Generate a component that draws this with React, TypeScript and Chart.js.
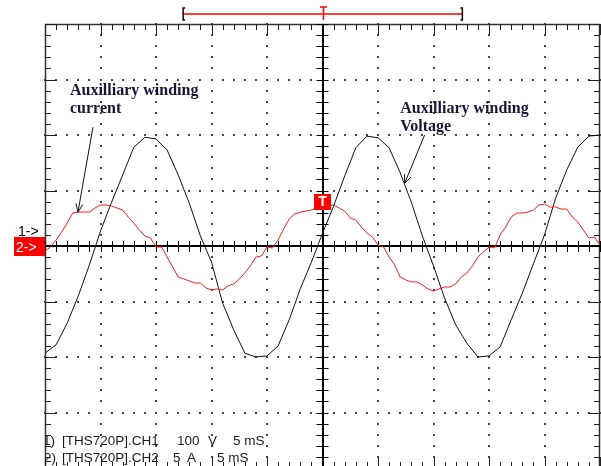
import React, { useEffect, useRef } from "react";
import { Chart, registerables } from "chart.js";

Chart.register(...registerables);

// ---- Data ----
// Time base: 5 ms/div, 10 divisions shown (0..50 ms)
const TIME_MIN_MS = 0;
const TIME_MAX_MS = 50;
const MS_PER_DIV = 5;
const MINOR_PER_DIV = 5;

// CH1: auxiliary winding voltage, 100 V/div, sampled every 1 ms
const CH1_SAMPLE_MS = 1;
const ch1Voltage = [
  -193, -178, -139, -90, -34, 27, 79, 128, 178, 196,
  193, 173, 128, 77, 18, -29, -103, -151, -193, -200,
  -198, -180, -133, -77, -29, 23, 72, 126, 177, 198,
  195, 177, 132, 79, 18, -36, -94, -142, -175, -200,
  -198, -182, -133, -85, -32, 20, 86, 137, 178, 198,
  200,
];
const V_PER_DIV = 100;

// CH2: auxiliary winding current, 5 A/div, sampled every 0.5 ms
const CH2_SAMPLE_MS = 0.5;
const ch2Current = [
  -0.45, -0.09, 0.54, 1.26, 2.07, 2.97, 3.06, 3.06, 3.06, 3.42,
  3.69, 3.69, 3.6, 3.42, 3.24, 2.61, 2.07, 1.44, 0.9, 0.72,
  -0.09, -0.09, -0.99, -1.89, -2.79, -2.97, -3.15, -3.33, -3.33, -3.78,
  -3.96, -3.87, -3.96, -3.6, -3.42, -2.97, -2.43, -1.8, -0.99, -0.9,
  -0.09, -0.18, 0.54, 1.53, 2.43, 2.88, 3.06, 3.15, 3.24, 3.42,
  3.51, 3.6, 3.69, 3.42, 3.15, 2.52, 2.34, 1.71, 1.17, 0.81,
  0.09, -0.09, -0.99, -1.71, -2.79, -3.06, -3.24, -3.24, -3.51, -3.87,
  -4.05, -3.87, -3.69, -3.69, -3.42, -2.79, -2.43, -1.8, -0.99, -0.54,
  -0.09, -0.18, 0.99, 1.71, 2.61, 2.97, 2.97, 3.06, 3.24, 3.69,
  3.78, 3.51, 3.51, 3.33, 3.33, 2.61, 2.16, 1.44, 0.72, 0.81,
  0.09,
];
const A_PER_DIV = 5;
const DIVS_HALF = 4; // 8 vertical divisions

const TRIGGER_MS = 25;
const TRIGGER_LEVEL_A = 4;
const RECORD_WINDOW_MS = [12.4, 37.6];

// read-out text (channel settings)
const infoLine1 = ["1)", "[THS720P].CH1", "100", "V", "5 mS"];
const infoLine2 = ["2)", "[THS720P].CH2", "5", "A", "5 mS"];

// annotation texts
const annotationTexts = [
  ["Auxilliary winding", "current"],
  ["Auxilliary winding", "Voltage"],
];

// ---- layout (pixels relative to the plot's left edge) ----
const INFO_OFFSETS = [
  [-2, 17, 132, 163, 188],
  [-1, 17, 128, 142, 172],
];
// annotation anchors in (ms, volts)
const ANNOTATION_ANCHORS = [
  { text: [2.25, 272], tail: [4.32, 214], tip: [2.97, 61] },
  { text: [32.0, 240], tail: [34.2, 200], tip: [32.4, 113] },
];

const ch1Points = ch1Voltage.map((v, i) => ({ x: i * CH1_SAMPLE_MS, y: v }));
const ch2Points = ch2Current.map((v, i) => ({ x: i * CH2_SAMPLE_MS, y: v }));

const scopePlugin = {
  id: "scope",
  beforeDatasetsDraw(chart: any) {
    const { ctx, chartArea: a, scales } = chart;
    const sx = scales.x;
    const sy = scales.yV;
    const minorMs = MS_PER_DIV / MINOR_PER_DIV;
    const minorV = V_PER_DIV / MINOR_PER_DIV;
    const xsMinor: number[] = [];
    for (let t = TIME_MIN_MS; t <= TIME_MAX_MS + 1e-9; t += minorMs) xsMinor.push(sx.getPixelForValue(t));
    const ysMinor: number[] = [];
    const vMax = DIVS_HALF * V_PER_DIV;
    for (let v = -vMax; v <= vMax + 1e-9; v += minorV) ysMinor.push(sy.getPixelForValue(v));
    const xsMajor: number[] = [];
    for (let t = TIME_MIN_MS + MS_PER_DIV; t < TIME_MAX_MS; t += MS_PER_DIV) xsMajor.push(sx.getPixelForValue(t));
    const ysMajor: number[] = [];
    for (let v = -vMax + V_PER_DIV; v < vMax; v += V_PER_DIV) ysMajor.push(sy.getPixelForValue(v));
    const cx = sx.getPixelForValue(TRIGGER_MS);
    const cy = sy.getPixelForValue(0);

    ctx.save();
    // info text at the bottom, clipped to the screen area
    ctx.save();
    ctx.beginPath();
    ctx.rect(a.left, a.top, a.right - a.left, a.bottom - a.top);
    ctx.clip();
    ctx.fillStyle = "#1a1a1a";
    ctx.font = "13.5px 'Liberation Sans', Arial, sans-serif";
    ctx.textBaseline = "alphabetic";
    [infoLine1, infoLine2].forEach((line, li) => {
      const base = sy.getPixelForValue(-vMax) - 23 + li * 17;
      line.forEach((seg, si) => ctx.fillText(seg, a.left + INFO_OFFSETS[li][si], base));
    });
    ctx.restore();

    // dotted grid
    ctx.fillStyle = "#444";
    xsMajor.forEach((X) => {
      if (Math.abs(X - cx) < 1) return;
      ysMinor.forEach((Y) => ctx.fillRect(Math.round(X) - 1, Math.round(Y) - 1, 2, 2));
    });
    ysMajor.forEach((Y) => {
      if (Math.abs(Y - cy) < 1) return;
      xsMinor.forEach((X) => ctx.fillRect(Math.round(X) - 1, Math.round(Y) - 1, 2, 2));
    });

    // border
    ctx.strokeStyle = "#333";
    ctx.lineWidth = 1.5;
    ctx.strokeRect(a.left + 0.5, a.top + 0.5, a.right - a.left - 1, a.bottom - a.top - 1);

    // border ticks
    ctx.lineWidth = 1;
    ctx.strokeStyle = "#222";
    ctx.beginPath();
    xsMinor.forEach((X, i) => {
      const len = i % MINOR_PER_DIV === 0 ? 11 : 6;
      const xx = Math.round(X) + 0.5;
      ctx.moveTo(xx, a.top);
      ctx.lineTo(xx, a.top + len);
      ctx.moveTo(xx, a.bottom);
      ctx.lineTo(xx, a.bottom - len);
    });
    ysMinor.forEach((Y, i) => {
      const len = i % MINOR_PER_DIV === 0 ? 12 : 6;
      const yy = Math.round(Y) + 0.5;
      ctx.moveTo(a.left, yy);
      ctx.lineTo(a.left + len, yy);
      ctx.moveTo(a.right, yy);
      ctx.lineTo(a.right - len, yy);
    });
    ctx.stroke();

    // centre cross
    ctx.strokeStyle = "#000";
    ctx.lineWidth = 2;
    ctx.beginPath();
    ctx.moveTo(a.left, Math.round(cy));
    ctx.lineTo(a.right, Math.round(cy));
    ctx.moveTo(Math.round(cx), a.top);
    ctx.lineTo(Math.round(cx), a.bottom);
    ctx.stroke();
    ctx.lineWidth = 1;
    ctx.beginPath();
    xsMinor.forEach((X) => {
      const xx = Math.round(X) + 0.5;
      ctx.moveTo(xx, cy - 5);
      ctx.lineTo(xx, cy + 6);
    });
    ysMinor.forEach((Y) => {
      const yy = Math.round(Y) + 0.5;
      ctx.moveTo(cx - 6, yy);
      ctx.lineTo(cx + 6, yy);
    });
    ctx.stroke();
    ctx.restore();
  },
  afterDatasetsDraw(chart: any) {
    const { ctx, chartArea: a, scales } = chart;
    const sx = scales.x;
    const sy = scales.yV;
    const sa = scales.yA;
    ctx.save();

    // trigger marker
    const tx = sx.getPixelForValue(TRIGGER_MS);
    const ty = sa.getPixelForValue(TRIGGER_LEVEL_A);
    ctx.fillStyle = "#f00";
    ctx.fillRect(Math.round(tx) - 9, Math.round(ty) - 8, 17, 16);
    ctx.fillStyle = "#fff";
    ctx.font = "bold 14px 'Liberation Sans', Arial, sans-serif";
    ctx.textAlign = "center";
    ctx.textBaseline = "middle";
    ctx.fillText("T", Math.round(tx) - 0.5, Math.round(ty) + 0.5);

    // channel ground markers
    const g1 = sy.getPixelForValue(0);
    const g2 = sa.getPixelForValue(0);
    ctx.textAlign = "left";
    ctx.textBaseline = "alphabetic";
    ctx.font = "14px 'Liberation Sans', Arial, sans-serif";
    ctx.fillStyle = "#000";
    ctx.fillText("1->", a.left - 27, g1 - 10);
    ctx.fillStyle = "#f00";
    ctx.fillRect(a.left - 31, g2 - 9, 31, 19);
    ctx.fillStyle = "#fff";
    ctx.fillText("2->", a.left - 29, g2 + 6);

    // record window bracket at top
    const bx0 = sx.getPixelForValue(RECORD_WINDOW_MS[0]);
    const bx1 = sx.getPixelForValue(RECORD_WINDOW_MS[1]);
    const by = a.top - 10;
    ctx.strokeStyle = "#f00";
    ctx.lineWidth = 1.5;
    ctx.beginPath();
    ctx.moveTo(bx0, by);
    ctx.lineTo(bx1, by);
    ctx.moveTo(Math.round(tx) + 0.5, by - 7);
    ctx.lineTo(Math.round(tx) + 0.5, by + 6);
    ctx.moveTo(Math.round(tx) - 3, by - 7);
    ctx.lineTo(Math.round(tx) + 4, by - 7);
    ctx.stroke();
    ctx.strokeStyle = "#200";
    ctx.lineWidth = 1.5;
    ctx.beginPath();
    ctx.moveTo(bx0 + 2.5, by - 6);
    ctx.lineTo(bx0 + 0.5, by - 6);
    ctx.lineTo(bx0 + 0.5, by + 6);
    ctx.lineTo(bx0 + 2.5, by + 6);
    ctx.moveTo(bx1 - 2, by - 6);
    ctx.lineTo(bx1, by - 6);
    ctx.lineTo(bx1, by + 6);
    ctx.lineTo(bx1 - 2, by + 6);
    ctx.stroke();

    // annotations
    annotationTexts.forEach((lines, k) => {
      const an = ANNOTATION_ANCHORS[k];
      const px = sx.getPixelForValue(an.text[0]);
      const py = sy.getPixelForValue(an.text[1]);
      ctx.fillStyle = "#16163a";
      ctx.font = "bold 16px 'Liberation Serif', 'Times New Roman', serif";
      lines.forEach((ln, i) => ctx.fillText(ln, px, py + i * 18));
      const x0 = sx.getPixelForValue(an.tail[0]);
      const y0 = sy.getPixelForValue(an.tail[1]);
      const x1 = sx.getPixelForValue(an.tip[0]);
      const y1 = sy.getPixelForValue(an.tip[1]);
      ctx.strokeStyle = "#111";
      ctx.lineWidth = 1;
      ctx.beginPath();
      ctx.moveTo(x0, y0);
      ctx.lineTo(x1, y1);
      const ang = Math.atan2(y1 - y0, x1 - x0);
      const hl = 9;
      ctx.moveTo(x1, y1);
      ctx.lineTo(x1 - hl * Math.cos(ang - 0.4), y1 - hl * Math.sin(ang - 0.4));
      ctx.moveTo(x1, y1);
      ctx.lineTo(x1 - hl * Math.cos(ang + 0.4), y1 - hl * Math.sin(ang + 0.4));
      ctx.stroke();
    });
    ctx.restore();
  },
};

export default function App() {
  const ref = useRef<HTMLCanvasElement>(null);
  useEffect(() => {
    if (!ref.current) return;
    const chart = new Chart(ref.current, {
      type: "line",
      data: {
        datasets: [
          {
            label: "CH2 current",
            data: ch2Points,
            yAxisID: "yA",
            borderColor: "#ff1a1a",
            borderWidth: 1,
            pointRadius: 0,
            tension: 0,
          },
          {
            label: "CH1 voltage",
            data: ch1Points,
            yAxisID: "yV",
            borderColor: "#111",
            borderWidth: 1,
            pointRadius: 0,
            tension: 0,
          },
        ],
      },
      options: {
        animation: false,
        responsive: false,
        devicePixelRatio: 1,
        layout: { padding: { left: 45, top: 24, right: 1, bottom: 12 } },
        scales: {
          x: { type: "linear", min: TIME_MIN_MS, max: TIME_MAX_MS, display: false },
          yV: { type: "linear", min: -DIVS_HALF * V_PER_DIV, max: DIVS_HALF * V_PER_DIV, display: false },
          yA: { type: "linear", min: -DIVS_HALF * A_PER_DIV, max: DIVS_HALF * A_PER_DIV, display: false },
        },
        plugins: { legend: { display: false }, tooltip: { enabled: false } },
      },
      plugins: [scopePlugin],
    });
    return () => chart.destroy();
  }, []);
  return (
    <div style={{ position: "fixed", left: 0, top: 0, width: 601, height: 466, overflow: "hidden", background: "#fff" }}>
      <canvas ref={ref} width={601} height={480} style={{ display: "block", width: 601, height: 480 }} />
    </div>
  );
}
